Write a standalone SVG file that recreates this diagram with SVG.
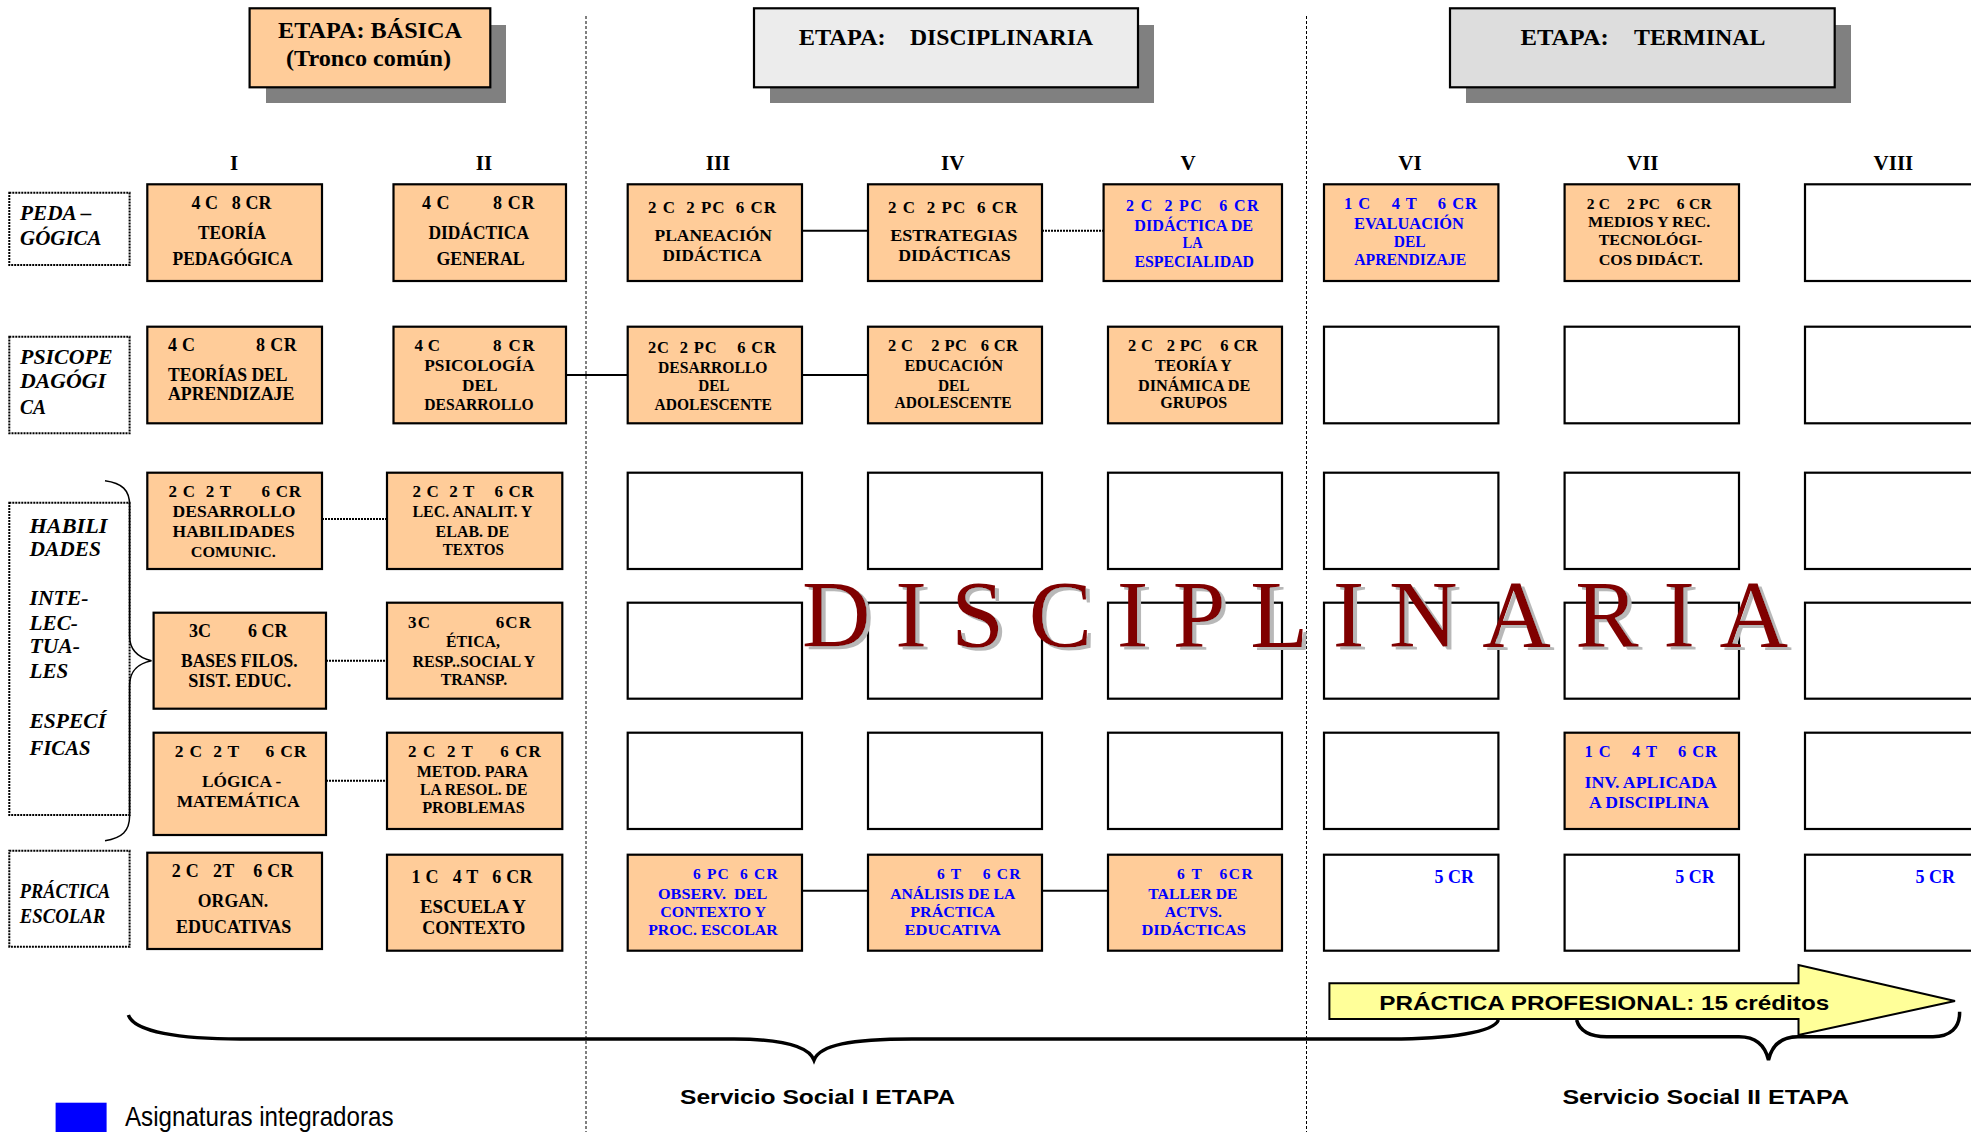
<svg xmlns="http://www.w3.org/2000/svg" width="1971" height="1132" viewBox="0 0 1971 1132">
<defs>
<filter id="wmShadow" x="-5%" y="-20%" width="110%" height="140%">
<feOffset in="SourceAlpha" dx="4" dy="3" result="off"/>
<feFlood flood-color="#b8b8b8"/>
<feComposite in2="off" operator="in" result="sh"/>
<feMerge><feMergeNode in="sh"/><feMergeNode in="SourceGraphic"/></feMerge>
</filter>
</defs>
<style>
.box{fill:#ffcc99;stroke:#000;stroke-width:2.2}
.empty{fill:#fff;stroke:#000;stroke-width:2.2}
.lbl{fill:#fff;stroke:#000;stroke-width:2;stroke-dasharray:2 1}
.t{font-family:"Liberation Serif","Times New Roman",serif;font-weight:bold;fill:#000}
.m{text-anchor:middle}
.b{fill:#0000ff}
.it{font-style:italic;font-size:21px}
.cr{white-space:pre}
.conn{stroke:#000;stroke-width:2;fill:none}
.dot{stroke-dasharray:2 1}
.sep{stroke:#000;stroke-width:1;stroke-dasharray:3 2;fill:none}
.brace{stroke:#000;fill:none}
.s{font-family:"Liberation Sans",Arial,sans-serif;font-weight:bold;fill:#000}
.shadow{fill:#808080}
</style>
<rect width="1971" height="1132" fill="#fff"/>

<g id="separators">
<line class="sep" x1="586" y1="16" x2="586" y2="1132"/>
<line class="sep" x1="1306.5" y1="16" x2="1306.5" y2="1132"/>
</g>

<g id="stage-basica">
<rect class="shadow" x="266" y="25" width="240" height="78"/>
<rect class="box" x="249.6" y="8.3" width="240.7" height="79"/>
<text class="t m" x="370" y="38.3" font-size="23" textLength="184" lengthAdjust="spacingAndGlyphs">ETAPA: BÁSICA</text>
<text class="t m" x="368.5" y="66" font-size="23" textLength="165" lengthAdjust="spacingAndGlyphs">(Tronco común)</text>
</g>
<g id="stage-disciplinaria">
<rect class="shadow" x="770" y="25" width="384" height="78"/>
<rect x="754" y="8.3" width="384" height="79" fill="#ececec" stroke="#000" stroke-width="2.2"/>
<text class="t" x="798.7" y="45" font-size="23" textLength="87" lengthAdjust="spacingAndGlyphs">ETAPA:</text>
<text class="t" x="910" y="45" font-size="23" textLength="183" lengthAdjust="spacingAndGlyphs">DISCIPLINARIA</text>
</g>
<g id="stage-terminal">
<rect class="shadow" x="1466" y="25" width="385" height="78"/>
<rect x="1450" y="8.3" width="384.7" height="79" fill="#dddddd" stroke="#000" stroke-width="2.2"/>
<text class="t" x="1520.5" y="45" font-size="23" textLength="88.3" lengthAdjust="spacingAndGlyphs">ETAPA:</text>
<text class="t" x="1634" y="45" font-size="23" textLength="131.4" lengthAdjust="spacingAndGlyphs">TERMINAL</text>
</g>

<g id="semesters" class="t m" font-size="21">
<text x="234" y="170">I</text>
<text x="484" y="170">II</text>
<text x="718" y="170">III</text>
<text x="952.7" y="170">IV</text>
<text x="1188" y="170">V</text>
<text x="1410" y="170">VI</text>
<text x="1642.8" y="170">VII</text>
<text x="1893.4" y="170">VIII</text>
</g>

<g id="label-pedagogica">
<rect class="lbl" x="9.3" y="192.7" width="120.3" height="72.3"/>
<text class="t it" x="20" y="220" textLength="71.5" lengthAdjust="spacingAndGlyphs">PEDA –</text>
<text class="t it" x="20" y="245" textLength="81.6" lengthAdjust="spacingAndGlyphs">GÓGICA</text>
</g>
<g id="label-psicopedagogica">
<rect class="lbl" x="9.3" y="336.7" width="120.3" height="96.6"/>
<text class="t it" x="20" y="364.3" textLength="92.6" lengthAdjust="spacingAndGlyphs">PSICOPE</text>
<text class="t it" x="20" y="388.3" textLength="85.9" lengthAdjust="spacingAndGlyphs">DAGÓGI</text>
<text class="t it" x="20" y="414.3" textLength="26" lengthAdjust="spacingAndGlyphs">CA</text>
</g>
<g id="label-habilidades">
<rect class="lbl" x="9.3" y="502.7" width="120.3" height="312.3"/>
<text class="t it" x="29.5" y="532.7" textLength="77.9" lengthAdjust="spacingAndGlyphs">HABILI</text>
<text class="t it" x="29.5" y="556" textLength="71.5" lengthAdjust="spacingAndGlyphs">DADES</text>
<text class="t it" x="29.5" y="605" textLength="59" lengthAdjust="spacingAndGlyphs">INTE-</text>
<text class="t it" x="29.5" y="630" textLength="48.4" lengthAdjust="spacingAndGlyphs">LEC-</text>
<text class="t it" x="29.5" y="653" textLength="50.5" lengthAdjust="spacingAndGlyphs">TUA-</text>
<text class="t it" x="29.5" y="678" textLength="38.7" lengthAdjust="spacingAndGlyphs">LES</text>
<text class="t it" x="29.5" y="728" textLength="76.6" lengthAdjust="spacingAndGlyphs">ESPECÍ</text>
<text class="t it" x="29.5" y="755" textLength="61" lengthAdjust="spacingAndGlyphs">FICAS</text>
</g>
<g id="label-practica">
<rect class="lbl" x="9.3" y="850.7" width="120.3" height="96"/>
<text class="t it" x="19.8" y="898.3" font-size="18" textLength="90.5" lengthAdjust="spacingAndGlyphs">PRÁCTICA</text>
<text class="t it" x="19.8" y="922.7" font-size="18" textLength="85.4" lengthAdjust="spacingAndGlyphs">ESCOLAR</text>
</g>

<g id="connectors">
<line class="conn" x1="802" y1="230.7" x2="868" y2="230.7"/>
<line class="conn dot" x1="1042" y1="230.7" x2="1103.6" y2="230.7"/>
<line class="conn" x1="566" y1="375" x2="627.7" y2="375"/>
<line class="conn" x1="802" y1="375" x2="868" y2="375"/>
<line class="conn dot" x1="322" y1="519" x2="387" y2="519"/>
<line class="conn dot" x1="326" y1="660.7" x2="387" y2="660.7"/>
<line class="conn dot" x1="326" y1="780.7" x2="387" y2="780.7"/>
<line class="conn" x1="802" y1="890.7" x2="868" y2="890.7"/>
<line class="conn" x1="1042" y1="890.7" x2="1108" y2="890.7"/>
<path class="brace" stroke-width="1.5" d="M105,480.7 C122,483 129.6,490 129.6,505 L129.6,636 C129.6,651 140,658 151.5,660.7 C140,663 129.6,670 129.6,685 L129.6,816 C129.6,831 122,838 105,840.7"/>
<path class="brace" stroke-width="3.5" d="M128.4,1015 C134,1032 180,1039 240,1039 L734,1039 C780,1039 808,1045 814,1060 C820,1045 850,1039 912,1039 L1390,1039 C1450,1039 1494,1032 1498.4,1020"/>
<path class="brace" stroke-width="3.5" d="M1576.6,1020 C1580,1032 1590,1036.7 1606.6,1036.7 L1739,1036.7 C1755,1036.7 1765,1045 1768.5,1060 C1772,1045 1782,1036.7 1798,1036.7 L1933,1036.7 C1950,1036.7 1960,1028 1959.6,1011.7"/>
</g>

<g id="arrow-practica-profesional">
<polygon points="1329.4,983.3 1798.5,983.3 1798.5,965 1955,1001 1798.5,1035 1798.5,1019 1329.4,1019" fill="#ffff99" stroke="#000" stroke-width="2"/>
<text class="s" x="1379.3" y="1010" font-size="20" textLength="450" lengthAdjust="spacingAndGlyphs">PRÁCTICA PROFESIONAL: 15 créditos</text>
</g>

<!-- Row 1 -->
<g id="n-teoria-pedagogica">
<rect class="box" x="147.3" y="184.3" width="174.7" height="96.7"/>
<text class="t cr" x="191.5" y="209" font-size="18" textLength="80" lengthAdjust="spacing">4 C   8 CR</text>
<text class="t m" x="232" y="239" font-size="18" textLength="68.2" lengthAdjust="spacingAndGlyphs">TEORÍA</text>
<text class="t m" x="232.5" y="265" font-size="18" textLength="120" lengthAdjust="spacingAndGlyphs">PEDAGÓGICA</text>
</g>
<g id="n-didactica-general">
<rect class="box" x="393.5" y="184.3" width="172.5" height="96.7"/>
<text class="t" x="422" y="209" font-size="18" textLength="27.5" lengthAdjust="spacing">4 C</text>
<text class="t" x="493" y="209" font-size="18" textLength="41.5" lengthAdjust="spacing">8 CR</text>
<text class="t m" x="478.7" y="239" font-size="18" textLength="100.6" lengthAdjust="spacingAndGlyphs">DIDÁCTICA</text>
<text class="t m" x="480.6" y="265" font-size="18" textLength="88.4" lengthAdjust="spacingAndGlyphs">GENERAL</text>
</g>
<g id="n-planeacion">
<rect class="box" x="627.7" y="184.3" width="174.3" height="96.7"/>
<text class="t cr" x="648" y="212.7" font-size="17" textLength="128" lengthAdjust="spacing">2 C  2 PC  6 CR</text>
<text class="t m" x="713.2" y="240.7" font-size="17" textLength="117.4" lengthAdjust="spacingAndGlyphs">PLANEACIÓN</text>
<text class="t m" x="712" y="260.7" font-size="17" textLength="99.1" lengthAdjust="spacingAndGlyphs">DIDÁCTICA</text>
</g>
<g id="n-estrategias">
<rect class="box" x="868" y="184.3" width="174" height="96.7"/>
<text class="t cr" x="888" y="212.7" font-size="17" textLength="129.4" lengthAdjust="spacing">2 C  2 PC  6 CR</text>
<text class="t m" x="953.8" y="240.7" font-size="17" textLength="127.2" lengthAdjust="spacingAndGlyphs">ESTRATEGIAS</text>
<text class="t m" x="954.5" y="260.7" font-size="17" textLength="112.5" lengthAdjust="spacingAndGlyphs">DIDÁCTICAS</text>
</g>
<g id="n-didactica-especialidad">
<rect class="box" x="1103.6" y="184.3" width="178.4" height="96.7"/>
<text class="t b cr" x="1126" y="210.7" font-size="16" textLength="132.5" lengthAdjust="spacing">2 C  2 PC   6 CR</text>
<text class="t b m" x="1193.7" y="230.7" font-size="16" textLength="118.8" lengthAdjust="spacingAndGlyphs">DIDÁCTICA DE</text>
<text class="t b m" x="1192.6" y="248.3" font-size="16" textLength="20" lengthAdjust="spacingAndGlyphs">LA</text>
<text class="t b m" x="1194.2" y="266.7" font-size="16" textLength="119.6" lengthAdjust="spacingAndGlyphs">ESPECIALIDAD</text>
</g>
<g id="n-evaluacion">
<rect class="box" x="1324" y="184.3" width="174.4" height="96.7"/>
<text class="t b cr" x="1344" y="209" font-size="16.5" textLength="133" lengthAdjust="spacing">1 C    4 T    6 CR</text>
<text class="t b m" x="1409" y="228.7" font-size="16.5" textLength="109.9" lengthAdjust="spacingAndGlyphs">EVALUACIÓN</text>
<text class="t b m" x="1409.7" y="246.7" font-size="16.5" textLength="31.8" lengthAdjust="spacingAndGlyphs">DEL</text>
<text class="t b m" x="1410.2" y="265" font-size="16.5" textLength="112" lengthAdjust="spacingAndGlyphs">APRENDIZAJE</text>
</g>
<g id="n-medios">
<rect class="box" x="1564.6" y="184.3" width="174.4" height="96.7"/>
<text class="t cr" x="1586.7" y="209" font-size="15.5" textLength="125" lengthAdjust="spacing">2 C    2 PC    6 CR</text>
<text class="t m" x="1649.1" y="226.7" font-size="15.5" textLength="122.2" lengthAdjust="spacingAndGlyphs">MEDIOS Y REC.</text>
<text class="t m" x="1650.5" y="245" font-size="15.5" textLength="103.7" lengthAdjust="spacingAndGlyphs">TECNOLÓGI-</text>
<text class="t m" x="1650.7" y="265" font-size="15.5" textLength="104" lengthAdjust="spacingAndGlyphs">COS DIDÁCT.</text>
</g>
<g id="n-r1-viii"><rect class="empty" x="1805" y="184.3" width="180" height="96.7"/></g>

<!-- Row 2 -->
<g id="n-teorias-aprendizaje">
<rect class="box" x="147.3" y="326.7" width="174.7" height="96.6"/>
<text class="t" x="168" y="351" font-size="18" textLength="27" lengthAdjust="spacing">4 C</text>
<text class="t" x="256" y="351" font-size="18" textLength="40.7" lengthAdjust="spacing">8 CR</text>
<text class="t" x="168" y="381" font-size="18" textLength="119.5" lengthAdjust="spacingAndGlyphs">TEORÍAS DEL</text>
<text class="t" x="168" y="400" font-size="18" textLength="126.3" lengthAdjust="spacingAndGlyphs">APRENDIZAJE</text>
</g>
<g id="n-psicologia-desarrollo">
<rect class="box" x="393.5" y="326.7" width="172.5" height="96.6"/>
<text class="t" x="414.6" y="351" font-size="17" textLength="25.4" lengthAdjust="spacing">4 C</text>
<text class="t" x="493" y="351" font-size="17" textLength="41.5" lengthAdjust="spacing">8 CR</text>
<text class="t m" x="479.4" y="370.7" font-size="17" textLength="110.3" lengthAdjust="spacingAndGlyphs">PSICOLOGÍA</text>
<text class="t m" x="479.8" y="390.7" font-size="17" textLength="35.4" lengthAdjust="spacingAndGlyphs">DEL</text>
<text class="t m" x="479" y="410" font-size="17" textLength="109.4" lengthAdjust="spacingAndGlyphs">DESARROLLO</text>
</g>
<g id="n-desarrollo-adolescente">
<rect class="box" x="627.7" y="326.7" width="174.3" height="96.6"/>
<text class="t cr" x="648" y="352.7" font-size="16.5" textLength="128" lengthAdjust="spacing">2C  2 PC    6 CR</text>
<text class="t m" x="712.7" y="372.7" font-size="16.5" textLength="109.4" lengthAdjust="spacingAndGlyphs">DESARROLLO</text>
<text class="t m" x="713.8" y="390.7" font-size="16.5" textLength="31.3" lengthAdjust="spacingAndGlyphs">DEL</text>
<text class="t m" x="713.2" y="410" font-size="16.5" textLength="117.4" lengthAdjust="spacingAndGlyphs">ADOLESCENTE</text>
</g>
<g id="n-educacion-adolescente">
<rect class="box" x="868" y="326.7" width="174" height="96.6"/>
<text class="t cr" x="888" y="351" font-size="16.5" textLength="130" lengthAdjust="spacing">2 C    2 PC   6 CR</text>
<text class="t m" x="953.8" y="370.7" font-size="16.5" textLength="98.7" lengthAdjust="spacingAndGlyphs">EDUCACIÓN</text>
<text class="t m" x="953.8" y="390.7" font-size="16.5" textLength="31.7" lengthAdjust="spacingAndGlyphs">DEL</text>
<text class="t m" x="953.1" y="408.3" font-size="16.5" textLength="117" lengthAdjust="spacingAndGlyphs">ADOLESCENTE</text>
</g>
<g id="n-teoria-grupos">
<rect class="box" x="1108" y="326.7" width="174" height="96.6"/>
<text class="t cr" x="1128" y="351" font-size="16.5" textLength="129.6" lengthAdjust="spacing">2 C   2 PC    6 CR</text>
<text class="t m" x="1193.3" y="370.7" font-size="16.5" textLength="76.8" lengthAdjust="spacingAndGlyphs">TEORÍA Y</text>
<text class="t m" x="1194.2" y="390.7" font-size="16.5" textLength="112.5" lengthAdjust="spacingAndGlyphs">DINÁMICA DE</text>
<text class="t m" x="1193.7" y="408.3" font-size="16.5" textLength="67" lengthAdjust="spacingAndGlyphs">GRUPOS</text>
</g>
<g id="n-r2-vi"><rect class="empty" x="1324" y="326.7" width="174.4" height="96.6"/></g>
<g id="n-r2-vii"><rect class="empty" x="1564.6" y="326.7" width="174.4" height="96.6"/></g>
<g id="n-r2-viii"><rect class="empty" x="1805" y="326.7" width="180" height="96.6"/></g>

<!-- Row 3 -->
<g id="n-habilidades-comunic">
<rect class="box" x="147.3" y="472.7" width="174.7" height="96.3"/>
<text class="t cr" x="168.4" y="496.7" font-size="17" textLength="132.6" lengthAdjust="spacing">2 C  2 T      6 CR</text>
<text class="t m" x="234" y="517.3" font-size="17" textLength="122.9" lengthAdjust="spacingAndGlyphs">DESARROLLO</text>
<text class="t m" x="233.6" y="536.7" font-size="17" textLength="122" lengthAdjust="spacingAndGlyphs">HABILIDADES</text>
<text class="t m" x="233.2" y="556.7" font-size="15.5" textLength="85" lengthAdjust="spacingAndGlyphs">COMUNIC.</text>
</g>
<g id="n-lectura-analitica">
<rect class="box" x="387" y="472.7" width="175.3" height="96.3"/>
<text class="t cr" x="412.5" y="496.7" font-size="17" textLength="121.2" lengthAdjust="spacing">2 C  2 T    6 CR</text>
<text class="t m" x="472.4" y="517.3" font-size="16.5" textLength="120" lengthAdjust="spacingAndGlyphs">LEC. ANALIT. Y</text>
<text class="t m" x="472.4" y="536.7" font-size="16.5" textLength="73.6" lengthAdjust="spacingAndGlyphs">ELAB. DE</text>
<text class="t m" x="473.3" y="555" font-size="16.5" textLength="61" lengthAdjust="spacingAndGlyphs">TEXTOS</text>
</g>
<g id="n-r3-iii"><rect class="empty" x="627.7" y="472.7" width="174.3" height="96.3"/></g>
<g id="n-r3-iv"><rect class="empty" x="868" y="472.7" width="174" height="96.3"/></g>
<g id="n-r3-v"><rect class="empty" x="1108" y="472.7" width="174" height="96.3"/></g>
<g id="n-r3-vi"><rect class="empty" x="1324" y="472.7" width="174.4" height="96.3"/></g>
<g id="n-r3-vii"><rect class="empty" x="1564.6" y="472.7" width="174.4" height="96.3"/></g>
<g id="n-r3-viii"><rect class="empty" x="1805" y="472.7" width="180" height="96.3"/></g>

<!-- Row 4 -->
<g id="n-bases-filosoficas">
<rect class="box" x="153.6" y="612.7" width="172.4" height="96"/>
<text class="t" x="189" y="636.7" font-size="18" textLength="22" lengthAdjust="spacing">3C</text>
<text class="t" x="248" y="636.7" font-size="18" textLength="39.5" lengthAdjust="spacing">6 CR</text>
<text class="t m" x="239.3" y="666.7" font-size="18" textLength="116.6" lengthAdjust="spacingAndGlyphs">BASES FILOS.</text>
<text class="t m" x="239.7" y="686.7" font-size="18" textLength="103.1" lengthAdjust="spacingAndGlyphs">SIST. EDUC.</text>
</g>
<g id="n-etica">
<rect class="box" x="387" y="602.7" width="175.3" height="96"/>
<text class="t" x="408" y="628.3" font-size="17" textLength="22" lengthAdjust="spacing">3C</text>
<text class="t" x="495.8" y="628.3" font-size="17" textLength="35.2" lengthAdjust="spacing">6CR</text>
<text class="t m" x="473" y="647.3" font-size="16.5" textLength="53.9" lengthAdjust="spacingAndGlyphs">ÉTICA,</text>
<text class="t m" x="473.9" y="667.3" font-size="16.5" textLength="122.9" lengthAdjust="spacingAndGlyphs">RESP..SOCIAL Y</text>
<text class="t m" x="473.9" y="685" font-size="16.5" textLength="66.5" lengthAdjust="spacingAndGlyphs">TRANSP.</text>
</g>
<g id="n-r4-iii"><rect class="empty" x="627.7" y="602.7" width="174.3" height="96"/></g>
<g id="n-r4-iv"><rect class="empty" x="868" y="602.7" width="174" height="96"/></g>
<g id="n-r4-v"><rect class="empty" x="1108" y="602.7" width="174" height="96"/></g>
<g id="n-r4-vi"><rect class="empty" x="1324" y="602.7" width="174.4" height="96"/></g>
<g id="n-r4-vii"><rect class="empty" x="1564.6" y="602.7" width="174.4" height="96"/></g>
<g id="n-r4-viii"><rect class="empty" x="1805" y="602.7" width="180" height="96"/></g>

<!-- Row 5 -->
<g id="n-logica-matematica">
<rect class="box" x="153.6" y="732.7" width="172.4" height="102.3"/>
<text class="t cr" x="174.7" y="756.7" font-size="17.5" textLength="131.7" lengthAdjust="spacing">2 C  2 T     6 CR</text>
<text class="t m" x="241.6" y="786.7" font-size="17.5" textLength="79.1" lengthAdjust="spacingAndGlyphs">LÓGICA -</text>
<text class="t m" x="238.2" y="806.7" font-size="17.5" textLength="122.9" lengthAdjust="spacingAndGlyphs">MATEMÁTICA</text>
</g>
<g id="n-metodologia">
<rect class="box" x="387" y="732.7" width="175.3" height="96.3"/>
<text class="t cr" x="408" y="756.7" font-size="17" textLength="132.8" lengthAdjust="spacing">2 C  2 T     6 CR</text>
<text class="t m" x="472.4" y="776.7" font-size="16.5" textLength="111.5" lengthAdjust="spacingAndGlyphs">METOD. PARA</text>
<text class="t m" x="473.7" y="795" font-size="16.5" textLength="107.3" lengthAdjust="spacingAndGlyphs">LA RESOL. DE</text>
<text class="t m" x="473.5" y="812.7" font-size="16.5" textLength="102.7" lengthAdjust="spacingAndGlyphs">PROBLEMAS</text>
</g>
<g id="n-r5-iii"><rect class="empty" x="627.7" y="732.7" width="174.3" height="96.3"/></g>
<g id="n-r5-iv"><rect class="empty" x="868" y="732.7" width="174" height="96.3"/></g>
<g id="n-r5-v"><rect class="empty" x="1108" y="732.7" width="174" height="96.3"/></g>
<g id="n-r5-vi"><rect class="empty" x="1324" y="732.7" width="174.4" height="96.3"/></g>
<g id="n-inv-aplicada">
<rect class="box" x="1564.6" y="732.7" width="174.4" height="96.3"/>
<text class="t b cr" x="1584.5" y="756.7" font-size="16.5" textLength="132.5" lengthAdjust="spacing">1 C    4 T    6 CR</text>
<text class="t b m" x="1650.7" y="788.3" font-size="16.5" textLength="132.4" lengthAdjust="spacingAndGlyphs">INV. APLICADA</text>
<text class="t b m" x="1649" y="808.3" font-size="16.5" textLength="120" lengthAdjust="spacingAndGlyphs">A DISCIPLINA</text>
</g>
<g id="n-r5-viii"><rect class="empty" x="1805" y="732.7" width="180" height="96.3"/></g>

<!-- Row 6 -->
<g id="n-organizaciones">
<rect class="box" x="147.3" y="852.7" width="174.7" height="96.3"/>
<text class="t cr" x="171.7" y="877.3" font-size="18" textLength="121.7" lengthAdjust="spacing">2 C   2T    6 CR</text>
<text class="t m" x="233" y="906.7" font-size="18" textLength="70.3" lengthAdjust="spacingAndGlyphs">ORGAN.</text>
<text class="t m" x="233.6" y="932.7" font-size="18" textLength="115.3" lengthAdjust="spacingAndGlyphs">EDUCATIVAS</text>
</g>
<g id="n-escuela-contexto">
<rect class="box" x="387" y="854.7" width="175.3" height="96"/>
<text class="t cr" x="411.6" y="882.7" font-size="18" textLength="120.8" lengthAdjust="spacing">1 C   4 T   6 CR</text>
<text class="t m" x="473" y="912.7" font-size="18" textLength="106" lengthAdjust="spacingAndGlyphs">ESCUELA Y</text>
<text class="t m" x="473.7" y="934.3" font-size="18" textLength="103.1" lengthAdjust="spacingAndGlyphs">CONTEXTO</text>
</g>
<g id="n-observacion">
<rect class="box" x="627.7" y="854.7" width="174.3" height="96"/>
<text class="t b cr" x="692.9" y="879" font-size="15.5" textLength="84.8" lengthAdjust="spacing">6 PC  6 CR</text>
<text class="t b m cr" x="712.7" y="899.3" font-size="15.5" textLength="109.4" lengthAdjust="spacingAndGlyphs">OBSERV.  DEL</text>
<text class="t b m" x="713.2" y="917.3" font-size="15.5" textLength="105.8" lengthAdjust="spacingAndGlyphs">CONTEXTO Y</text>
<text class="t b m" x="712.9" y="935" font-size="15.5" textLength="129.5" lengthAdjust="spacingAndGlyphs">PROC. ESCOLAR</text>
</g>
<g id="n-analisis-practica">
<rect class="box" x="868" y="854.7" width="174" height="96"/>
<text class="t b cr" x="937" y="879" font-size="15.5" textLength="83.5" lengthAdjust="spacing">6 T    6 CR</text>
<text class="t b m" x="952.7" y="899.3" font-size="15.5" textLength="125" lengthAdjust="spacingAndGlyphs">ANÁLISIS DE LA</text>
<text class="t b m" x="952.7" y="917.3" font-size="15.5" textLength="84.8" lengthAdjust="spacingAndGlyphs">PRÁCTICA</text>
<text class="t b m" x="952.7" y="935" font-size="15.5" textLength="96.4" lengthAdjust="spacingAndGlyphs">EDUCATIVA</text>
</g>
<g id="n-taller">
<rect class="box" x="1108" y="854.7" width="174" height="96"/>
<text class="t b cr" x="1177" y="879" font-size="15.5" textLength="75.7" lengthAdjust="spacing">6 T   6CR</text>
<text class="t b m" x="1192.9" y="899.3" font-size="15.5" textLength="89.3" lengthAdjust="spacingAndGlyphs">TALLER DE</text>
<text class="t b m" x="1193.3" y="917.3" font-size="15.5" textLength="57.1" lengthAdjust="spacingAndGlyphs">ACTVS.</text>
<text class="t b m" x="1193.7" y="935" font-size="15.5" textLength="104.5" lengthAdjust="spacingAndGlyphs">DIDÁCTICAS</text>
</g>
<g id="n-r6-vi">
<rect class="empty" x="1324" y="854.7" width="174.4" height="96"/>
<text class="t b" x="1474" y="882.7" font-size="18" text-anchor="end">5 CR</text>
</g>
<g id="n-r6-vii">
<rect class="empty" x="1564.6" y="854.7" width="174.4" height="96"/>
<text class="t b" x="1714.7" y="882.7" font-size="18" text-anchor="end">5 CR</text>
</g>
<g id="n-r6-viii">
<rect class="empty" x="1805" y="854.7" width="180" height="96"/>
<text class="t b" x="1955" y="882.7" font-size="18" text-anchor="end">5 CR</text>
</g>

<g id="watermark">
<text x="802" y="646.7" font-family="'Liberation Serif','Times New Roman',serif" font-size="95" fill="#800000" textLength="986" lengthAdjust="spacing" filter="url(#wmShadow)">DISCIPLINARIA</text>
</g>

<g id="service-labels">
<text class="s" x="680" y="1104" font-size="19.5" textLength="275" lengthAdjust="spacingAndGlyphs">Servicio Social I ETAPA</text>
<text class="s" x="1562.4" y="1104" font-size="19.5" textLength="286.6" lengthAdjust="spacingAndGlyphs">Servicio Social II ETAPA</text>
</g>

<g id="legend">
<rect x="55.6" y="1102.7" width="51" height="30" fill="#0000ff"/>
<text x="125" y="1126" font-family="'Liberation Sans',Arial,sans-serif" font-size="28" fill="#000" textLength="268.5" lengthAdjust="spacingAndGlyphs">Asignaturas integradoras</text>
</g>
</svg>
